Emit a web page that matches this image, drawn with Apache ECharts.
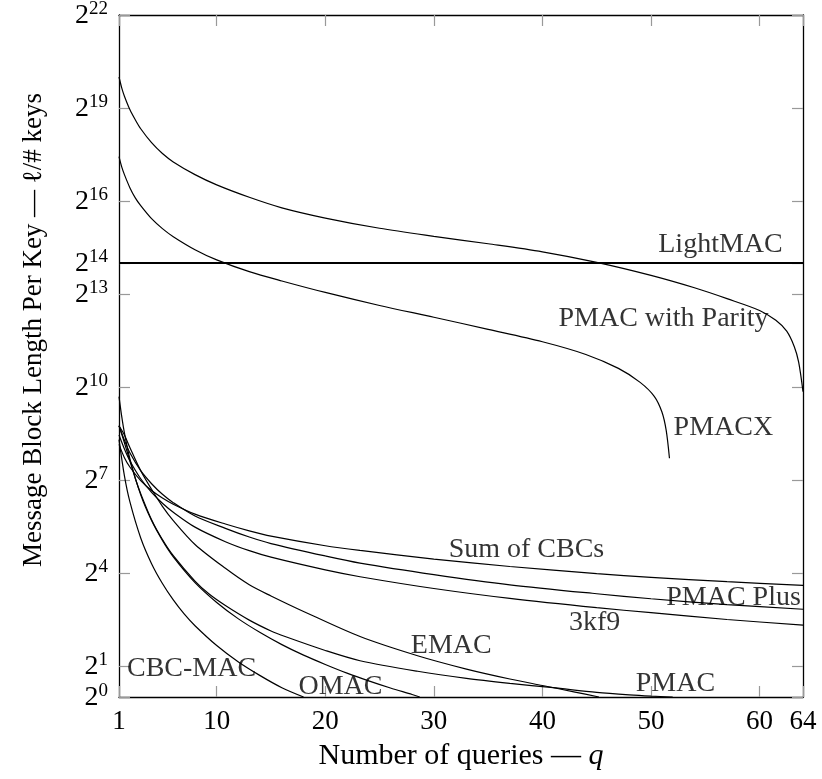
<!DOCTYPE html>
<html>
<head>
<meta charset="utf-8">
<script src="https://cdn.jsdelivr.net/npm/echarts@6.0.0/dist/echarts.min.js"></script>
<style>
  html, body { margin: 0; padding: 0; background: #fff; }
  #chart { width: 822px; height: 779px; }
</style>
</head>
<body>
<div id="chart"></div>
<script>
var chartDom = document.getElementById('chart');
var myChart = echarts.init(chartDom);

// y values are log2 of the block length (exponents)
var xTicks = [1, 10, 20, 30, 40, 50, 60, 64];
var yTicks = [0, 1, 4, 7, 10, 13, 14, 16, 19, 22];

var qLight = [1, 64];
var eLight = [14, 14];

var qParity = [1, 1.25, 1.5, 2, 2.5, 3, 4, 5, 6, 8, 10, 13, 16, 20, 25, 30, 35, 40, 45, 50, 54, 57, 60, 61.5, 62.5, 63.2, 63.6, 64];
var eParity = [20.0, 19.65, 19.38, 18.95, 18.62, 18.33, 17.88, 17.53, 17.26, 16.85, 16.52, 16.12, 15.78, 15.45, 15.12, 14.86, 14.62, 14.36, 14.02, 13.6, 13.2, 12.85, 12.47, 12.15, 11.8, 11.3, 10.8, 9.85];

var qPmacx = [1, 1.25, 1.5, 2, 2.5, 3, 4, 5, 6, 8, 10, 13, 16, 20, 25, 30, 35, 40, 44, 47, 49, 50.3, 51, 51.4, 51.7];
var ePmacx = [17.43, 17.1, 16.85, 16.43, 16.1, 15.85, 15.43, 15.11, 14.85, 14.43, 14.1, 13.72, 13.42, 13.05, 12.63, 12.25, 11.86, 11.46, 11.05, 10.6, 10.15, 9.7, 9.2, 8.6, 7.7];

var qBbb = [1, 1.5, 2, 3, 4, 5, 6, 8, 10.8, 13, 15, 20, 23.2, 30, 37, 45, 50, 57, 64];
var eSum = [8.15, 7.72, 7.42, 6.98, 6.66, 6.42, 6.22, 5.9, 5.58, 5.36, 5.19, 4.88, 4.73, 4.45, 4.21, 3.98, 3.86, 3.72, 3.6];
var ePlus = [8.75, 8.28, 7.88, 7.3, 6.88, 6.54, 6.27, 5.84, 5.44, 5.16, 4.95, 4.55, 4.32, 3.95, 3.62, 3.33, 3.17, 2.98, 2.83];
var e3kf9 = [8.45, 8.0, 7.62, 7.04, 6.6, 6.25, 5.96, 5.48, 5.01, 4.72, 4.51, 4.1, 3.88, 3.5, 3.18, 2.88, 2.72, 2.5, 2.32];

var qEmac = [1, 1.5, 2, 3, 4, 5, 6, 8, 10.8, 13, 15, 18, 23.2, 28.5, 33, 37, 40, 43, 45.2];
var eEmac = [8.75, 8.45, 8.05, 7.3, 6.7, 6.15, 5.69, 4.92, 4.15, 3.62, 3.26, 2.76, 1.95, 1.33, 0.9, 0.58, 0.37, 0.16, 0];

var qPmac = [1, 1.5, 2, 2.5, 3, 4, 5, 6, 8, 9.3, 10.8, 13, 15, 16.3, 20, 23.2, 28.5, 33, 37, 41, 45, 48, 50, 52];
var ePmac = [8.75, 8.2, 7.62, 7.05, 6.56, 5.72, 5.08, 4.56, 3.74, 3.32, 2.95, 2.48, 2.13, 1.95, 1.5, 1.17, 0.83, 0.6, 0.44, 0.3, 0.15, 0.07, 0.03, 0];

var qOmac = [1, 1.25, 1.5, 2, 3, 4, 5, 6, 8, 10, 12, 14, 16, 18, 20, 22, 24, 26, 28, 28.7];
var eOmac = [9.69, 9.05, 8.52, 7.69, 6.52, 5.69, 5.05, 4.52, 3.69, 3.05, 2.52, 2.08, 1.69, 1.35, 1.05, 0.77, 0.52, 0.29, 0.08, 0];

var qCbc = [1, 1.5, 2, 3, 4, 5, 6, 7, 8, 10, 12, 14, 16, 18];
var eCbc = [8.3, 7.13, 6.3, 5.13, 4.3, 3.66, 3.13, 2.68, 2.3, 1.66, 1.13, 0.69, 0.3, 0];

var labelNames = ['LightMAC', 'PMAC with Parity', 'PMACX', 'Sum of CBCs', 'PMAC Plus', '3kf9', 'EMAC', 'PMAC', 'CBC-MAC', 'OMAC'];
var labelQ = [56.4, 51.15, 56.67, 38.53, 57.6, 44.8, 31.6, 52.25, 7.68, 21.4];
var labelE = [14.58, 12.19, 8.69, 4.76, 3.21, 2.40, 1.65, 0.42, 0.9, 0.32];

var serif = 'Liberation Serif, Times New Roman, serif';

function zip(xs, ys) {
  return xs.map(function (x, i) { return [x, ys[i]]; });
}

function curve(name, xs, ys, width) {
  return {
    name: name,
    type: 'line',
    data: zip(xs, ys),
    showSymbol: false,
    symbol: 'none',
    smooth: 0.3,
    lineStyle: { color: '#000', width: width || 1.2 },
    silent: true
  };
}

var tickStyle = { show: true, inside: true, length: 11, lineStyle: { color: '#999', width: 1.2 } };

var option = {
  animation: false,
  backgroundColor: '#fff',
  grid: { left: 119, right: 19, top: 15, bottom: 82, containLabel: false, outerBoundsMode: 'none' },
  xAxis: [
    {
      type: 'value', min: 1, max: 64, position: 'bottom',
      name: '{t|Number of queries — }{i|q}',
      nameLocation: 'middle', nameGap: 44,
      nameTextStyle: {
        rich: {
          t: { fontFamily: serif, fontSize: 30, color: '#000' },
          i: { fontFamily: serif, fontSize: 30, fontStyle: 'italic', color: '#000' }
        }
      },
      axisLine: { show: true, onZero: false, lineStyle: { color: '#000', width: 1.3 } },
      axisTick: Object.assign({ customValues: xTicks }, tickStyle),
      axisLabel: { customValues: xTicks, margin: 11, color: '#000', fontFamily: serif, fontSize: 27,
        formatter: function (v) { return String(v); } },
      splitLine: { show: false }
    },
    {
      type: 'value', min: 1, max: 64, position: 'top',
      axisLine: { show: true, onZero: false, lineStyle: { color: '#000', width: 1.3 } },
      axisTick: Object.assign({ customValues: xTicks }, tickStyle),
      axisLabel: { show: false },
      splitLine: { show: false }
    }
  ],
  yAxis: [
    {
      type: 'value', min: 0, max: 22, position: 'left',
      name: 'Message Block Length Per Key — ℓ/# keys',
      nameLocation: 'middle', nameGap: 72,
      nameTextStyle: { fontFamily: serif, fontSize: 27, color: '#000', padding: [0, 0, 0, 52] },
      axisLine: { show: true, onZero: false, lineStyle: { color: '#000', width: 1.3 } },
      axisTick: Object.assign({ customValues: yTicks }, tickStyle),
      axisLabel: {
        customValues: yTicks, margin: 11,
        formatter: function (v) { return '{b|2}{s|' + v + '}'; },
        rich: {
          b: { fontFamily: serif, fontSize: 28, lineHeight: 30, verticalAlign: 'bottom', color: '#000' },
          s: { fontFamily: serif, fontSize: 19, lineHeight: 17, verticalAlign: 'top', color: '#000' }
        }
      },
      splitLine: { show: false }
    },
    {
      type: 'value', min: 0, max: 22, position: 'right',
      axisLine: { show: true, onZero: false, lineStyle: { color: '#000', width: 1.3 } },
      axisTick: Object.assign({ customValues: yTicks }, tickStyle),
      axisLabel: { show: false },
      splitLine: { show: false }
    }
  ],
  series: [
    curve('LightMAC', qLight, eLight, 2),
    curve('PMAC with Parity', qParity, eParity),
    curve('PMACX', qPmacx, ePmacx),
    curve('Sum of CBCs', qBbb, eSum),
    curve('PMAC Plus', qBbb, ePlus),
    curve('3kf9', qBbb, e3kf9),
    curve('EMAC', qEmac, eEmac),
    curve('PMAC', qPmac, ePmac),
    curve('OMAC', qOmac, eOmac),
    curve('CBC-MAC', qCbc, eCbc),
    {
      name: 'labels',
      type: 'scatter',
      data: labelNames.map(function (n, i) { return [labelQ[i], labelE[i], n]; }),
      symbolSize: 1,
      itemStyle: { color: 'rgba(0,0,0,0)' },
      silent: true,
      z: 5,
      label: {
        show: true, position: 'inside',
        formatter: function (p) { return p.value[2]; },
        fontFamily: serif, fontSize: 28, color: '#000'
      }
    }
  ]
};

myChart.setOption(option);

window.onresize = () => {
  myChart.resize();
}
</script>
</body>
</html>
